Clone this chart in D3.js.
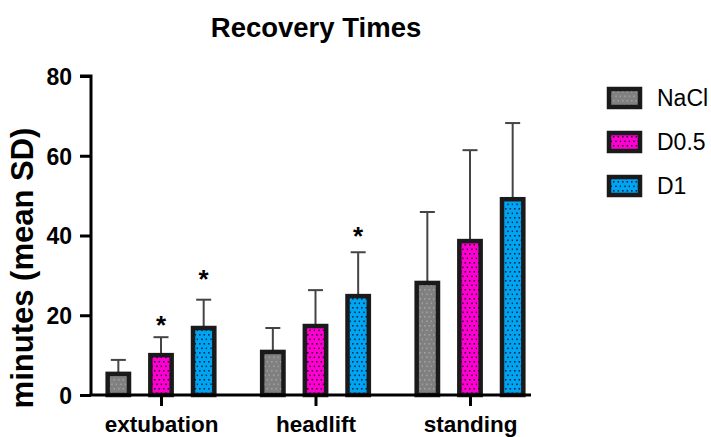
<!DOCTYPE html>
<html>
<head>
<meta charset="utf-8">
<script src="https://cdn.jsdelivr.net/npm/d3@7"></script>
<style>
  body { margin: 0; background: #fff; }
  text { font-family: "Liberation Sans", Arial, sans-serif; }
</style>
</head>
<body>
<svg id="chart" width="711" height="437"></svg>
<script>
// data
var categories = ["extubation", "headlift", "standing"];
var groups = ["NaCl", "D0.5", "D1"];
var meanNaCl = [5.3, 10.8, 28.1];
var meanD05 = [10.0, 17.3, 38.6];
var meanD1 = [16.8, 24.8, 49.1];
var sdNaCl = [3.5, 6.0, 17.8];
var sdD05 = [4.5, 9.0, 22.8];
var sdD1 = [7.1, 11.0, 19.1];
// asterisks: [category, group, y value of the star]
var stars = [["extubation", "D0.5", 18.5], ["extubation", "D1", 30.0], ["headlift", "D1", 40.8]];
var yTicks = [0, 20, 40, 60, 80];

var means = [meanNaCl, meanD05, meanD1];
var sds = [sdNaCl, sdD05, sdD1];
var colors = ["#808080", "#ff00d4", "#00a4f2"];
var dotColors = ["#a0a0a0", "#3a0030", "#00304a"];

var svg = d3.select("#chart");

// patterns with dots
var defs = svg.append("defs");
groups.forEach(function(g, i) {
    var p = defs.append("pattern")
        .attr("id", "pat" + i)
        .attr("patternUnits", "userSpaceOnUse")
        .attr("width", 9)
        .attr("height", 9);
    p.append("rect").attr("width", 9).attr("height", 9).attr("fill", colors[i]);
    p.append("rect").attr("x", 1).attr("y", 1).attr("width", 1.6).attr("height", 1.6).attr("fill", dotColors[i]);
    p.append("rect").attr("x", 5.5).attr("y", 1).attr("width", 1.6).attr("height", 1.6).attr("fill", dotColors[i]);
    p.append("rect").attr("x", 3.2).attr("y", 5.5).attr("width", 1.6).attr("height", 1.6).attr("fill", dotColors[i]);
    p.append("rect").attr("x", 7.7).attr("y", 5.5).attr("width", 1.6).attr("height", 1.6).attr("fill", dotColors[i]);
});

var y = d3.scaleLinear().domain([0, 80]).range([395, 76]);
var x = d3.scalePoint().domain(categories).range([161, 470]);
var xInner = d3.scaleBand().domain(groups).range([-64, 64]).paddingInner(0.5).paddingOuter(0.25);

// bars
var barData = [];
categories.forEach(function(c, ci) {
    groups.forEach(function(g, gi) {
        barData.push({ cat: c, grp: g, gi: gi, mean: means[gi][ci], sd: sds[gi][ci] });
    });
});

var bw = xInner.bandwidth();

// error bars (drawn first, bar covers lower part)
var err = svg.append("g").attr("class", "errors");
err.selectAll("line.v")
    .data(barData)
    .enter().append("line")
    .attr("x1", function(d) { return x(d.cat) + xInner(d.grp) + bw / 2; })
    .attr("x2", function(d) { return x(d.cat) + xInner(d.grp) + bw / 2; })
    .attr("y1", function(d) { return y(d.mean); })
    .attr("y2", function(d) { return y(d.mean + d.sd); })
    .attr("stroke", "#444")
    .attr("stroke-width", 2);
err.selectAll("line.cap")
    .data(barData)
    .enter().append("line")
    .attr("x1", function(d) { return x(d.cat) + xInner(d.grp) + bw / 2 - 7.5; })
    .attr("x2", function(d) { return x(d.cat) + xInner(d.grp) + bw / 2 + 7.5; })
    .attr("y1", function(d) { return y(d.mean + d.sd); })
    .attr("y2", function(d) { return y(d.mean + d.sd); })
    .attr("stroke", "#444")
    .attr("stroke-width", 2);

svg.append("g").attr("class", "bars")
    .selectAll("rect")
    .data(barData)
    .enter().append("rect")
    .attr("x", function(d) { return x(d.cat) + xInner(d.grp); })
    .attr("y", function(d) { return y(d.mean); })
    .attr("width", bw)
    .attr("height", function(d) { return y(0) - y(d.mean); })
    .attr("fill", function(d) { return "url(#pat" + d.gi + ")"; })
    .attr("stroke", "#1a1a1a")
    .attr("stroke-width", 4.5);

// stars
svg.append("g").selectAll("text")
    .data(stars)
    .enter().append("text")
    .attr("x", function(d) { return x(d[0]) + xInner(d[1]) + bw / 2; })
    .attr("y", function(d) { return y(d[2]) + 13; })
    .attr("text-anchor", "middle")
    .style("font-size", "26px")
    .style("font-weight", "bold")
    .text("*");

// y axis
var yAxis = svg.append("g")
    .attr("transform", "translate(91,0)")
    .call(d3.axisLeft(y).tickValues(yTicks).tickSize(11).tickPadding(8));
yAxis.select(".domain").attr("stroke", "#000").attr("stroke-width", 3).attr("d", "M0,395V76H-11");
yAxis.selectAll(".tick line").attr("stroke", "#000").attr("stroke-width", 3);
yAxis.selectAll(".tick text")
    .style("font-size", "23px")
    .style("font-weight", "bold")
    .attr("fill", "#000")
    .attr("dy", "0.36em");

// x axis
var xAxis = svg.append("g")
    .attr("transform", "translate(0,395)")
    .call(d3.axisBottom(x).tickSize(11).tickPadding(6));
xAxis.select(".domain").attr("stroke", "#000").attr("stroke-width", 3).attr("d", "M89.5,0H531");
xAxis.selectAll(".tick line").attr("stroke", "#000").attr("stroke-width", 3);
xAxis.selectAll(".tick text")
    .style("font-size", "22.5px")
    .style("font-weight", "bold")
    .attr("fill", "#000")
    .attr("y", 0)
    .attr("dy", 0)
    .attr("transform", "translate(0,37)");

// title
svg.append("text")
    .attr("x", 316)
    .attr("y", 37)
    .attr("text-anchor", "middle")
    .style("font-size", "27.5px")
    .style("font-weight", "bold")
    .text("Recovery Times");

// y label
svg.append("text")
    .attr("transform", "translate(33,268) rotate(-90)")
    .attr("text-anchor", "middle")
    .style("font-size", "31px")
    .style("font-weight", "bold")
    .text("minutes (mean SD)");

// legend
var legend = svg.append("g").attr("class", "legenda");
var ly = d3.scalePoint().domain(groups).range([98, 186]);
legend.selectAll("rect")
    .data(groups)
    .enter().append("rect")
    .attr("x", 609)
    .attr("y", function(d) { return ly(d) - 9; })
    .attr("width", 31)
    .attr("height", 18)
    .attr("fill", function(d, i) { return "url(#pat" + i + ")"; })
    .attr("stroke", "#1a1a1a")
    .attr("stroke-width", 4.5);
legend.selectAll("text")
    .data(groups)
    .enter().append("text")
    .attr("x", 657)
    .attr("y", function(d) { return ly(d) + 8; })
    .style("font-size", "23px")
    .text(function(d) { return d; });
</script>
</body>
</html>
